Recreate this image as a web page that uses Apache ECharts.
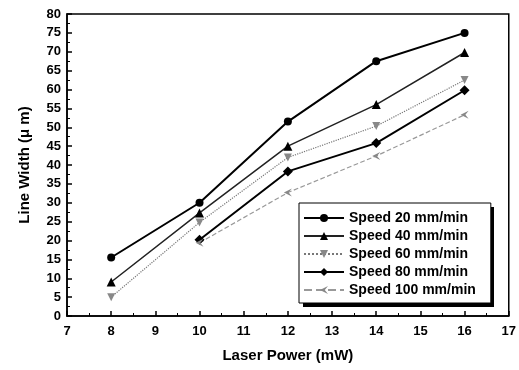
<!DOCTYPE html>
<html>
<head>
<meta charset="utf-8">
<script src="https://cdn.jsdelivr.net/npm/echarts@6/dist/echarts.min.js"></script>
<style>
  html, body { margin: 0; padding: 0; background: #fff; }
  #chart { width: 519px; height: 370px; }
</style>
</head>
<body>
<div id="chart"></div>
<script>
// laser power (mW) and measured line width (µm) per writing speed
const power = [8, 10, 12, 14, 16]
const speed20 = [15.5, 30.0, 51.5, 67.5, 75.0]
const speed40 = [9.0, 27.3, 45.0, 56.0, 69.8]
const speed60 = [5.0, 24.8, 42.0, 50.3, 62.5]
const speed80 = [null, 20.2, 38.3, 45.8, 59.8]
const speed100 = [null, 19.4, 32.7, 42.4, 53.3]
const seriesNames = ['Speed 20 mm/min', 'Speed 40 mm/min', 'Speed 60 mm/min', 'Speed 80 mm/min', 'Speed 100 mm/min']

const FONT = 'Liberation Sans, Arial, sans-serif'

// pair x values with y values, skip missing points
const toPairs = (ys) => power.map((x, i) => [x, ys[i]]).filter(p => p[1] !== null)

const chart = echarts.init(document.getElementById('chart'))

const axisLabel = { color: '#000', fontFamily: FONT, fontWeight: 'bold', fontSize: 13 }

chart.setOption({
  animation: false,
  backgroundColor: '#fff',
  grid: { left: 67, right: 7, top: 14, bottom: 54, show: true, borderColor: '#000', borderWidth: 1.5 },
  // hard drop shadow behind the legend box
  graphic: [{
    type: 'rect',
    left: 303,
    top: 207,
    z: 3,
    shape: { width: 191, height: 100 },
    style: { fill: '#000' }
  }],
  xAxis: {
    type: 'value',
    min: 7,
    max: 17,
    interval: 1,
    name: 'Laser Power (mW)',
    nameLocation: 'middle',
    nameGap: 32,
    nameTextStyle: { color: '#000', fontFamily: FONT, fontWeight: 'bold', fontSize: 15 },
    axisLine: { lineStyle: { color: '#000', width: 1.5 } },
    axisTick: { inside: true, length: 5, lineStyle: { color: '#000', width: 1.5 } },
    minorTick: { show: true, splitNumber: 2, length: 3, lineStyle: { color: '#000' } },
    axisLabel: { ...axisLabel, margin: 9 },
    splitLine: { show: false }
  },
  yAxis: {
    type: 'value',
    min: 0,
    max: 80,
    interval: 5,
    name: 'Line Width (μ m)',
    nameLocation: 'middle',
    nameGap: 35,
    nameTextStyle: { color: '#000', fontFamily: FONT, fontWeight: 'bold', fontSize: 15 },
    axisLine: { show: true, lineStyle: { color: '#000', width: 1.5 } },
    axisTick: { show: true, inside: true, length: 5, lineStyle: { color: '#000', width: 1.5 } },
    minorTick: { show: true, splitNumber: 2, length: 3, lineStyle: { color: '#000' } },
    axisLabel: { ...axisLabel, margin: 6 },
    splitLine: { show: false }
  },
  legend: {
    orient: 'vertical',
    left: 299,
    top: 203,
    z: 4,
    padding: [8, 15, 6, 4],
    itemGap: 4,
    itemWidth: 40,
    itemHeight: 10,
    backgroundColor: '#fff',
    borderColor: '#000',
    borderWidth: 1,
    textStyle: { color: '#000', fontFamily: FONT, fontWeight: 'bold', fontSize: 14 },
    data: seriesNames
  },
  series: [
    {
      name: seriesNames[0],
      type: 'line',
      data: toPairs(speed20),
      symbol: 'circle',
      symbolSize: 8,
      itemStyle: { color: '#000' },
      lineStyle: { color: '#000', width: 2 }
    },
    {
      name: seriesNames[1],
      type: 'line',
      data: toPairs(speed40),
      symbol: 'triangle',
      symbolSize: 9,
      itemStyle: { color: '#000' },
      lineStyle: { color: '#222', width: 1.5 }
    },
    {
      name: seriesNames[2],
      type: 'line',
      data: toPairs(speed60),
      symbol: 'triangle',
      symbolRotate: 180,
      symbolSize: 8,
      itemStyle: { color: '#888' },
      lineStyle: { color: '#777', width: 1.2, type: 'dotted' }
    },
    {
      name: seriesNames[3],
      type: 'line',
      data: toPairs(speed80),
      symbol: 'diamond',
      symbolSize: 10,
      itemStyle: { color: '#000' },
      lineStyle: { color: '#000', width: 2 }
    },
    {
      name: seriesNames[4],
      type: 'line',
      data: toPairs(speed100),
      symbol: 'path://M10,0 L0,5 L10,10 L6,5 Z',
      symbolSize: 8,
      itemStyle: { color: '#888' },
      lineStyle: { color: '#999', width: 1.2, type: 'dashed' }
    }
  ]
})
</script>
</body>
</html>
